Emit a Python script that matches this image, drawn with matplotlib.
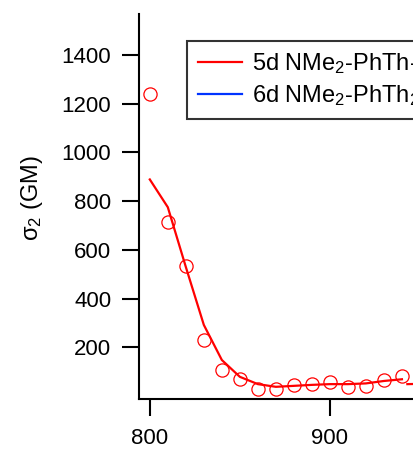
import matplotlib
matplotlib.use("Agg")
import matplotlib.pyplot as plt

# measured points (open circles)
wavelength = [800, 810, 820, 830, 840, 850, 860, 870, 880, 890, 900, 910, 920, 930, 940]
sigma2 = [1240, 716, 535, 229, 107, 71, 31, 27, 45, 51, 56, 38, 42, 66, 82]

# smoothed curve for 5d
curve_x = [800, 810, 820, 830, 840, 850, 860, 870, 880, 890, 900, 910, 920, 930, 940]
curve_y = [889, 775, 530, 292, 148, 79, 49, 38, 42, 46, 49, 49, 52, 62, 69]

# start of the next curve segment (cut off at the right edge)
curve2_x = [943, 960]
curve2_y = [49, 52]

x_ticks = [800, 900]
y_ticks = [200, 400, 600, 800, 1000, 1200, 1400]
legend_labels = ["5d NMe$_2$-PhTh-BDP", "6d NMe$_2$-PhTh$_2$-BDP"]

plt.rcParams["font.family"] = ["Liberation Sans", "DejaVu Sans"]
plt.rcParams["mathtext.fontset"] = "custom"
plt.rcParams["mathtext.rm"] = "Liberation Sans"
plt.rcParams["mathtext.it"] = "Liberation Sans:italic"
plt.rcParams["mathtext.default"] = "rm"

fig = plt.figure(figsize=(4.13, 4.55), dpi=100)
ax = fig.add_axes([139 / 413, 56 / 455, 371 / 413, 385 / 455])

red = "#ff0000"
blue = "#0033ff"

ax.plot(curve_x, curve_y, color=red, lw=1.6, label=legend_labels[0])
ax.plot(curve2_x, curve2_y, color=red, lw=1.6)
ax.plot(wavelength, sigma2, "o", mfc="none", mec=red, ms=9.5, mew=0.9)
ax.plot([], [], color=blue, lw=1.6, label=legend_labels[1])

ax.set_xlim(794, 1000)
ax.set_ylim(-12, 1568)
ax.set_xticks(x_ticks)
ax.set_yticks(y_ticks)

for s in ["top", "right"]:
    ax.spines[s].set_visible(False)
for s in ["left", "bottom"]:
    ax.spines[s].set_linewidth(1.5)

ax.tick_params(axis="both", direction="out", length=12, width=1.5, labelsize=16)
ax.tick_params(axis="y", pad=8)
ax.tick_params(axis="x", pad=9)

ax.set_ylabel("σ$_2$ (GM)", fontsize=17)
ax.yaxis.set_label_coords(45 / 413, 1 - 198 / 455, transform=fig.transFigure)

leg = fig.legend(loc="upper left", bbox_to_anchor=(187 / 413, 1 - 40.5 / 455),
                 fontsize=17, frameon=True, fancybox=False, handlelength=1.9,
                 handletextpad=0.42, borderpad=0.45, labelspacing=0.3,
                 borderaxespad=0)
leg.get_frame().set_edgecolor("black")
leg.get_frame().set_linewidth(1.5)

fig.savefig("out.png", dpi=100)
